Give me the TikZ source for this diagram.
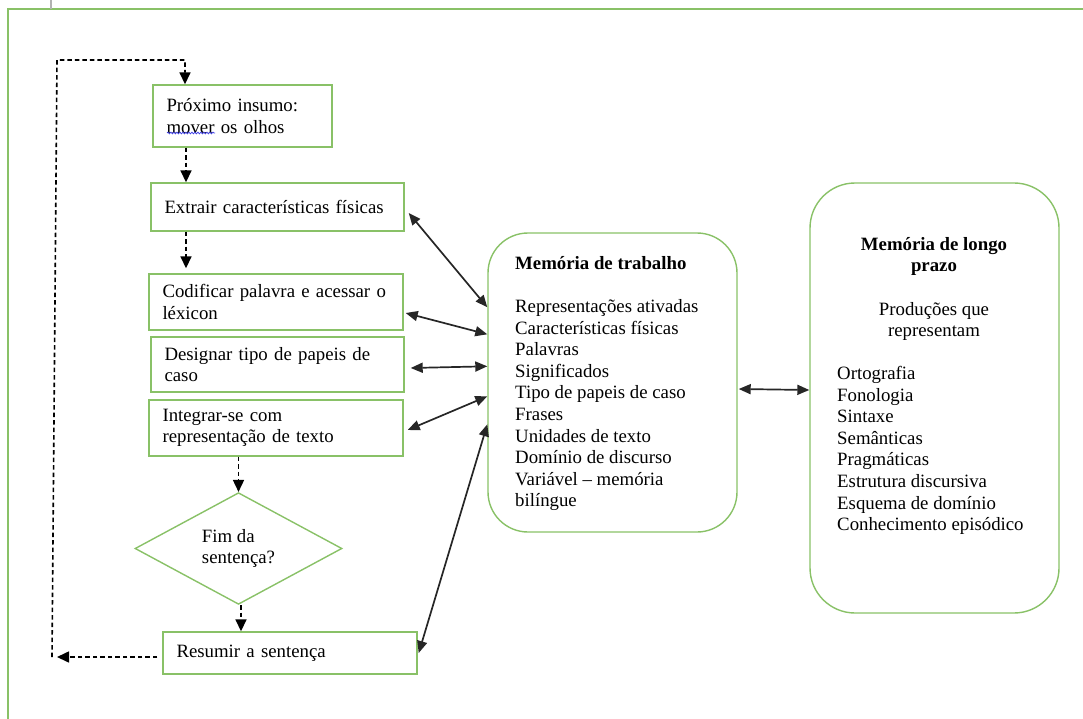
\documentclass[tikz,border=0pt]{standalone}
\usepackage{fontspec}
\setmainfont{Liberation Serif}
\usetikzlibrary{arrows.meta,shapes.geometric,calc,decorations.pathmorphing}
\definecolor{frgreen}{RGB}{137,193,103}
\definecolor{spellblue}{RGB}{60,60,230}
\begin{document}
\begin{tikzpicture}[x=1pt,y=-1pt,
  every node/.style={font=\fontsize{18.8}{21.6}\selectfont},
  stepbox/.style={draw=frgreen,line width=1.4pt,align=left,inner xsep=13.5pt,inner ysep=0pt},
  roundbox/.style={draw=frgreen,line width=1.4pt,rounded corners=40pt,inner sep=0pt},
  flow/.style={draw=black,line width=1.6pt,dash pattern=on 4.5pt off 3pt,-{Triangle[length=12pt,width=11pt]}},
  link/.style={draw=black!85,line width=1.7pt,{Triangle[length=12pt,width=10pt]}-{Triangle[length=12pt,width=10pt]}},
  txt/.style={inner sep=0pt,align=left}
]
\useasboundingbox (0,0) rectangle (1083,719);
% frame
\draw[frgreen,line width=1.6pt] (8,719) -- (8,9) -- (1083,9);
\draw[gray!60,line width=1.5pt] (51,0) -- (51,9);

% left column
\node[stepbox,text width=152pt,minimum height=62pt] (prox) at (242.5,116) {Próximo insumo:\\mover os olhos};
\node[stepbox,text width=226pt,minimum height=48pt] (ext) at (277.5,207) {Extrair características físicas};
\node[stepbox,text width=227pt,minimum height=56pt] (cod) at (276,302) {Codificar palavra e acessar o\\léxicon};
\node[stepbox,text width=226pt,minimum height=55pt] (des) at (277.5,364.5) {Designar tipo de papeis de\\caso};
\node[stepbox,text width=227pt,minimum height=56pt] (int) at (276,428) {Integrar-se com\\representação de texto};
\node[draw=frgreen,line width=1.4pt,diamond,minimum width=207pt,minimum height=109pt,inner sep=0pt,align=left] (dia) at (238.5,548.5) {Fim da\\sentença?};
\node[stepbox,text width=227pt,minimum height=42pt] (res) at (290,653) {Resumir a sentença};

% spell-check underline
\draw[spellblue,line width=0.7pt,decorate,decoration={snake,amplitude=0.9pt,segment length=3pt}] (167,133) -- (215,133);

% working memory
\node[roundbox,minimum width=249pt,minimum height=299pt] (mt) at (612.5,382.5) {};
\node[txt,anchor=west] (mttext) at (515,383.5) {\textbf{Memória de trabalho}\\[21.6pt]Representações ativadas\\Características físicas\\Palavras\\Significados\\Tipo de papeis de caso\\Frases\\Unidades de texto\\Domínio de discurso\\Variável -- memória\\bilíngue};

% long-term memory
\node[roundbox,rounded corners=45pt,minimum width=249pt,minimum height=430pt] (lt) at (934.5,398) {};
\node[txt,align=center] (lttitle) at (934,289) {\textbf{Memória de longo}\\\textbf{prazo}\\[21.6pt]Produções que\\representam};
\node[txt,anchor=west] (ltlist) at (837,450.5) {Ortografia\\Fonologia\\Sintaxe\\Semânticas\\Pragmáticas\\Estrutura discursiva\\Esquema de domínio\\Conhecimento episódico};

% coordinates for dashed flow
\coordinate (colA) at (186,0);
\coordinate (loopend) at (57,657);
\coordinate (loopbot) at (52,657);
\coordinate (looptop) at (57,60);
\coordinate (loopturn) at (185,60);

\draw[flow] (prox.south -| colA) -- (ext.north -| colA);
\draw[flow,shorten >=5pt] (ext.south -| colA) -- (cod.north -| colA);
\draw[flow] (int.south -| dia.north) -- (dia.north);
\draw[flow] ($(dia.south)+(2.5,0)$) -- ($(dia.south |- res.north)+(2.5,0)$);
\draw[flow] ($(res.west)+(-5,4)$) -- (loopend);
\draw[flow] (loopbot) -- (looptop) -- (loopturn) -- (prox.north -| loopturn);

% links to working memory
\draw[link] ($(ext.east)+(4,6)$) -- ($(mt.north west)+(0,75)$);
\draw[link] ($(cod.east)+(2,11)$) -- ($(mt.north west)+(0,102)$);
\draw[link] ($(des.east)+(6,3.5)$) -- ($(mt.north west)+(0,134)$);
\draw[link] ($(int.east)+(4,2)$) -- ($(mt.north west)+(0,164)$);
\draw[link] ($(res.east)+(1,0)$) -- ($(mt.north west)+(0,192)$);
\draw[link] ($(mt.east)+(1,6.5)$) -- ($(lt.west)+(0,-8)$);
\end{tikzpicture}
\end{document}
